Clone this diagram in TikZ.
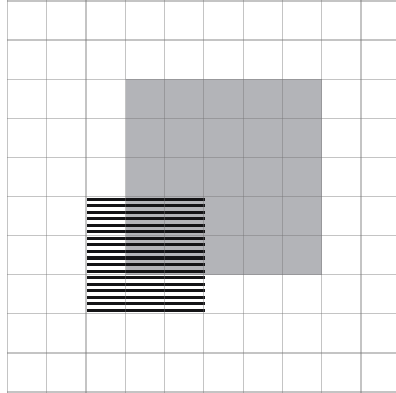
\documentclass[tikz,border=0pt]{standalone}
\begin{document}
\begin{tikzpicture}[x=1pt,y=-1pt,
  gridline/.style={draw=black!55,draw opacity=0.42,line width=1.2pt},
  blockfill/.style={fill={rgb,255:red,179;green,180;blue,184}},
  stripe/.style={fill={rgb,255:red,20;green,20;blue,22}}]
\useasboundingbox[fill=white] (0,0) rectangle (396,393);
% gray square
\fill[blockfill] (126,79.2) rectangle (321.6,274.7);
% hatched square
\foreach \k in {0,...,17}{
  \fill[stripe] (86.7,{197.5+6.55*\k}) rectangle (204.6,{197.5+6.55*\k+3.1});
}
% grid
\foreach \i in {0,...,9}{
  \draw[gridline] ({7.3+39.3*\i},0) -- ({7.3+39.3*\i},393);
}
\foreach \j in {0,...,10}{
  \draw[gridline] (7.3,{1+39.1*\j}) -- (396,{1+39.1*\j});
}
\end{tikzpicture}
\end{document}
